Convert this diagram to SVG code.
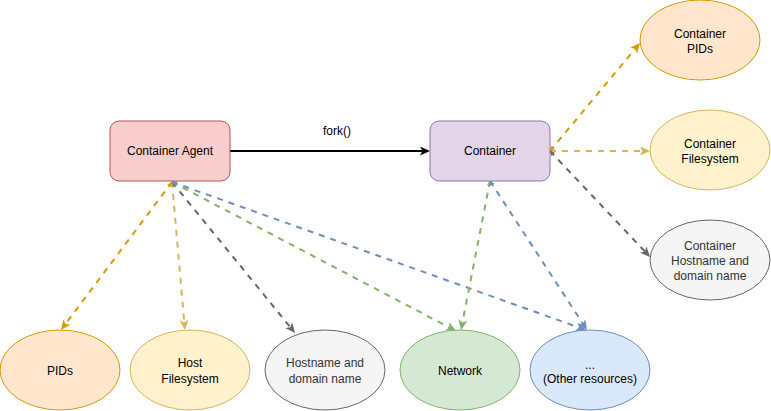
<svg xmlns="http://www.w3.org/2000/svg" width="771" height="411" viewBox="0 0 771 411">
<style>
  text { font-family: "Comic Sans MS", "Liberation Sans", sans-serif; font-size: 12px; fill: #000; text-anchor: middle; }
  .dk { fill: #333333; }
  .e { fill: none; stroke-width: 2; stroke-dasharray: 6 6; }
  .or { stroke: #d79b00; } .ye { stroke: #d6b656; } .gr { stroke: #666666; } .gn { stroke: #82b366; } .bl { stroke: #6c8ebf; }
</style>
<defs>
  <marker id="a-or" markerUnits="userSpaceOnUse" markerWidth="11" markerHeight="10" refX="2.5" refY="4.5" orient="auto"><path d="M0,0 L10,4.5 L0,9 L2.5,4.5 Z" fill="#d79b00"/></marker>
  <marker id="a-ye" markerUnits="userSpaceOnUse" markerWidth="11" markerHeight="10" refX="2.5" refY="4.5" orient="auto"><path d="M0,0 L10,4.5 L0,9 L2.5,4.5 Z" fill="#d6b656"/></marker>
  <marker id="a-gr" markerUnits="userSpaceOnUse" markerWidth="11" markerHeight="10" refX="2.5" refY="4.5" orient="auto"><path d="M0,0 L10,4.5 L0,9 L2.5,4.5 Z" fill="#666666"/></marker>
  <marker id="a-gn" markerUnits="userSpaceOnUse" markerWidth="11" markerHeight="10" refX="2.5" refY="4.5" orient="auto"><path d="M0,0 L10,4.5 L0,9 L2.5,4.5 Z" fill="#82b366"/></marker>
  <marker id="a-bl" markerUnits="userSpaceOnUse" markerWidth="11" markerHeight="10" refX="2.5" refY="4.5" orient="auto"><path d="M0,0 L10,4.5 L0,9 L2.5,4.5 Z" fill="#6c8ebf"/></marker>
  <marker id="a-bk" markerUnits="userSpaceOnUse" markerWidth="11" markerHeight="10" refX="2.5" refY="4.5" orient="auto"><path d="M0,0 L10,4.5 L0,9 L2.5,4.5 Z" fill="#000"/></marker>
  <marker id="s-or" markerUnits="userSpaceOnUse" markerWidth="6" markerHeight="6" refX="5" refY="2.5" orient="auto-start-reverse"><path d="M0,0 L5,2.5 L0,5 L1.2,2.5 Z" fill="#d79b00"/></marker>
  <marker id="s-ye" markerUnits="userSpaceOnUse" markerWidth="6" markerHeight="6" refX="5" refY="2.5" orient="auto-start-reverse"><path d="M0,0 L5,2.5 L0,5 L1.2,2.5 Z" fill="#d6b656"/></marker>
  <marker id="s-gr" markerUnits="userSpaceOnUse" markerWidth="6" markerHeight="6" refX="5" refY="2.5" orient="auto-start-reverse"><path d="M0,0 L5,2.5 L0,5 L1.2,2.5 Z" fill="#666666"/></marker>
  <marker id="s-gn" markerUnits="userSpaceOnUse" markerWidth="6" markerHeight="6" refX="5" refY="2.5" orient="auto-start-reverse"><path d="M0,0 L5,2.5 L0,5 L1.2,2.5 Z" fill="#82b366"/></marker>
  <marker id="s-bl" markerUnits="userSpaceOnUse" markerWidth="6" markerHeight="6" refX="5" refY="2.5" orient="auto-start-reverse"><path d="M0,0 L5,2.5 L0,5 L1.2,2.5 Z" fill="#6c8ebf"/></marker>
</defs>
<rect width="771" height="411" fill="#ffffff"/>
<g id="connectors">
  <path class="e or" d="M172,182 L65.5,324" marker-start="url(#s-or)" marker-end="url(#a-or)"/>
  <path class="e ye" d="M172,182 L184.3,322.5" marker-start="url(#s-ye)" marker-end="url(#a-ye)"/>
  <path class="e gr" d="M172,182 L290.3,327.2" marker-start="url(#s-gr)" marker-end="url(#a-gr)"/>
  <path class="e gn" d="M172,182 L449.4,327.5" marker-start="url(#s-gn)" marker-end="url(#a-gn)"/>
  <path class="e bl" d="M172,182 L578.9,327.5" marker-start="url(#s-bl)" marker-end="url(#a-bl)"/>
  <path class="e gn" d="M490,181 L462.4,322.6" marker-start="url(#s-gn)" marker-end="url(#a-gn)"/>
  <path class="e bl" d="M490,181 L582.9,323.7" marker-start="url(#s-bl)" marker-end="url(#a-bl)"/>
  <path class="e or" d="M550,151 L635.2,48.8" marker-start="url(#s-or)" marker-end="url(#a-or)"/>
  <path class="e ye" d="M550,151 L642.5,151" marker-start="url(#s-ye)" marker-end="url(#a-ye)"/>
  <path class="e gr" d="M550,151 L644.9,251.5" marker-start="url(#s-gr)" marker-end="url(#a-gr)"/>
  <path d="M230,151 L422.5,151" stroke="#000" stroke-width="2" fill="none" marker-end="url(#a-bk)"/>
  <text x="337" y="135">fork()</text>
</g>
<g id="container-agent">
  <rect x="110" y="121" width="120" height="60" rx="9" fill="#f8cecc" stroke="#b85450"/>
  <text x="170" y="155">Container Agent</text>
</g>
<g id="container">
  <rect x="430" y="121" width="120" height="60" rx="9" fill="#e1d5e7" stroke="#9673a6"/>
  <text x="490" y="155">Container</text>
</g>
<g id="pids">
  <ellipse cx="60" cy="370" rx="60" ry="40" fill="#ffe6cc" stroke="#d79b00"/>
  <text x="60" y="375">PIDs</text>
</g>
<g id="host-filesystem">
  <ellipse cx="190" cy="370" rx="60" ry="40" fill="#fff2cc" stroke="#d6b656"/>
  <text x="190" y="367">Host</text>
  <text x="190" y="383">Filesystem</text>
</g>
<g id="hostname">
  <ellipse cx="325" cy="370" rx="60" ry="40" fill="#f5f5f5" stroke="#666666"/>
  <text class="dk" x="325" y="367">Hostname and</text>
  <text class="dk" x="325" y="383">domain name</text>
</g>
<g id="network">
  <ellipse cx="460" cy="370" rx="60" ry="40" fill="#d5e8d4" stroke="#82b366"/>
  <text x="460" y="375">Network</text>
</g>
<g id="other-resources">
  <ellipse cx="590" cy="370" rx="60" ry="40" fill="#dae8fc" stroke="#6c8ebf"/>
  <text x="590" y="369">...</text>
  <text x="590" y="383">(Other resources)</text>
</g>
<g id="container-pids">
  <ellipse cx="700" cy="40" rx="60" ry="40" fill="#ffe6cc" stroke="#d79b00"/>
  <text x="700" y="38">Container</text>
  <text x="700" y="53">PIDs</text>
</g>
<g id="container-filesystem">
  <ellipse cx="710" cy="150" rx="60" ry="40" fill="#fff2cc" stroke="#d6b656"/>
  <text x="710" y="148">Container</text>
  <text x="710" y="163">Filesystem</text>
</g>
<g id="container-hostname">
  <ellipse cx="710" cy="260" rx="60" ry="40" fill="#f5f5f5" stroke="#666666"/>
  <text class="dk" x="710" y="250">Container</text>
  <text class="dk" x="710" y="265">Hostname and</text>
  <text class="dk" x="710" y="280">domain name</text>
</g>
</svg>
